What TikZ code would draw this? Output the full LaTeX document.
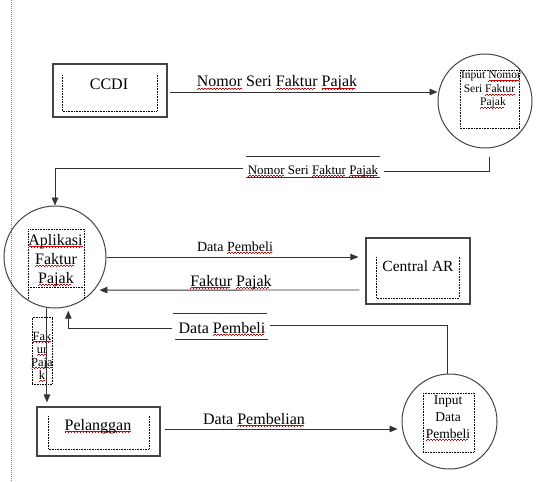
\documentclass[tikz,border=0pt]{standalone}
\usepackage{fontspec}
\setmainfont{Liberation Serif}
\usetikzlibrary{arrows.meta}
\newsavebox\sqbox
\newcommand\sqpat{\hbox{\rule[-2.6pt]{0.75pt}{0.55pt}\rule[-2.0pt]{0.75pt}{0.55pt}\rule[-1.4pt]{0.75pt}{0.55pt}\rule[-2.0pt]{0.75pt}{0.55pt}}}
\newcommand\sqw[1]{\sbox\sqbox{#1}\leavevmode\rlap{\raisebox{0pt}[0pt][0pt]{\color{red!85!black}\leaders\sqpat\hskip\wd\sqbox}}\usebox\sqbox}
\definecolor{lncol}{HTML}{333333}
\definecolor{boxcol}{HTML}{444444}
\tikzset{
  ln/.style={draw=lncol, line width=0.9pt},
  arr/.style={ln, -{Triangle[length=8pt,width=6.5pt]}},
  ebox/.style={draw=boxcol, line width=1.2pt, rectangle, inner sep=0pt},
  proc/.style={draw=boxcol, line width=1pt, circle, inner sep=0pt},
  dotb/.style={draw=black, line width=0.6pt, dash pattern=on 0.8pt off 0.8pt},
  big/.style={font=\fontsize{16}{19}\selectfont, inner sep=1pt, anchor=base},
  mid/.style={font=\fontsize{14}{17}\selectfont, inner sep=1pt, anchor=base},
  sml/.style={font=\fontsize{13}{16}\selectfont, inner sep=1pt, anchor=base},
}
\begin{document}
\begin{tikzpicture}[x=1pt,y=-1pt]
\useasboundingbox (0,0) rectangle (537,481);
\fill[white] (0,0) rectangle (537,481);
% left dotted margin line
\draw[draw=gray, line width=1pt, dash pattern=on 1pt off 1pt] (11,0) -- (11,481);

% ---------- CCDI ----------
\node[ebox, minimum width=114pt, minimum height=53pt] (ccdi) at (110,90.5) {};
\draw[dotb] (62,75) -- (62,111) -- (157,111) -- (157,75);
\node[big] (ccdit) at (109,90) {CCDI};

% ---------- Input Nomor Seri Faktur Pajak ----------
\node[proc, minimum size=94pt] (c1) at (485,101) {};
\draw[dotb] (460,70) rectangle (519,128);
\begin{scope}
\clip (458,60) rectangle (520,130);
\node[font=\fontsize{11.5}{14}\selectfont, inner sep=0pt, anchor=base] (c1a) at (491,79) {Input \sqw{Nomor}};
\end{scope}
\node[font=\fontsize{11.5}{14}\selectfont, inner sep=0pt, anchor=base] (c1b) at (489.5,93) {Seri \sqw{Faktur}};
\node[font=\fontsize{11.5}{14}\selectfont, inner sep=0pt, anchor=base] (c1c) at (493,106) {\sqw{Pajak}};

% ---------- Aplikasi Faktur Pajak ----------
\node[proc, minimum size=102pt] (app) at (55,257) {};
\draw[dotb] (28,299) -- (28,229) -- (84,229) -- (84,299);
\draw[dotb] (28,287) -- (84,287);
\node[big] (appa) at (55.5,245) {\sqw{Aplikasi}};
\node[big] (appb) at (56,264) {\sqw{Faktur}};
\node[big] (appc) at (56,283) {\sqw{Pajak}};

% ---------- Central AR ----------
\node[ebox, minimum width=104pt, minimum height=66pt] (car) at (418,271) {};
\draw[dotb] (376,257) -- (376,298) -- (459,298) -- (459,257);
\node[font=\fontsize{15.5}{18}\selectfont, inner sep=1pt, anchor=base] (cart) at (418,271) {Central AR};

% ---------- Pelanggan ----------
\node[ebox, minimum width=123pt, minimum height=49pt] (pel) at (98.5,431.5) {};
\draw[dotb] (48,416) -- (48,449) -- (149,449) -- (149,416);
\node[big] (pelt) at (98,430) {\sqw{Pelanggan}};

% ---------- Input Data Pembeli ----------
\node[proc, minimum size=95pt] (c3) at (449.5,421.5) {};
\draw[dotb] (423,393) rectangle (474,452);
\node[font=\fontsize{13.5}{17}\selectfont, inner sep=0pt, anchor=base] (c3a) at (448,404) {Input};
\node[font=\fontsize{13.5}{17}\selectfont, inner sep=0pt, anchor=base] (c3b) at (448,421) {Data};
\node[font=\fontsize{13.5}{17}\selectfont, inner sep=0pt, anchor=base] (c3c) at (448,438) {\sqw{Pembeli}};

% ---------- small text box Fak ur Paja k ----------
\node[dotb, minimum width=20pt, minimum height=67pt, inner sep=0pt] (fk) at (42,351) {};
\begin{scope}
\clip (fk.north west) rectangle (fk.south east);
\node[font=\fontsize{12.5}{13}\selectfont, inner sep=0pt, anchor=base] (fka) at (42,340) {\sqw{Fak}};
\node[font=\fontsize{12.5}{13}\selectfont, inner sep=0pt, anchor=base] (fkb) at (42,353) {\sqw{ur}};
\node[font=\fontsize{12.5}{13}\selectfont, inner sep=0pt, anchor=base] (fkc) at (42,366) {\sqw{Paja}};
\node[font=\fontsize{12.5}{13}\selectfont, inner sep=0pt, anchor=base] (fkd) at (42,379) {\sqw{k}};
\end{scope}

% ---------- flow labels ----------
\node[big] (l1) at (277,87) {\sqw{Nomor} Seri \sqw{Faktur} \sqw{Pajak}};
\node[sml] (l2) at (313,174) {\sqw{Nomor} Seri \sqw{Faktur} \sqw{Pajak}};
\node[mid] (l3) at (235,251) {Data \sqw{Pembeli}};
\node[big] (l4) at (231,286) {\sqw{Faktur} \sqw{Pajak}};
\node[big] (l5) at (222,333) {Data \sqw{Pembeli}};
\node[big] (l7) at (254,424) {Data \sqw{Pembelian}};

% over/under lines of the store-like labels
\draw[ln] (246,156) -- (380,156);
\draw[ln] (246,177) -- (380,177);
\draw[ln] (173,313) -- (267,313);
\draw[ln] (175,339) -- (268,339);

% ---------- connectors ----------
\draw[arr, shorten <=2pt] ([yshift=-1.5pt]ccdi.east) -- ([yshift=-1.5pt]ccdi.east -| c1.west);

\draw[ln] ([xshift=4pt,yshift=-8pt]c1.south) |- ([xshift=5pt,yshift=3pt]l2.base east);
\draw[arr] ([xshift=-4pt,yshift=6pt]l2.base west) -| (app.north);

\draw[arr, shorten >=7pt] (app.east) -- (app.east -| car.west);
\draw[arr, shorten <=6pt, shorten >=5pt] ([yshift=-19pt]car.west) -- (app.-40);

\draw[ln] ([xshift=-2.5pt]c3.north) |- ([xshift=3pt,yshift=8pt]l5.base east);
\draw[arr, shorten >=4pt] ([xshift=-5pt,yshift=5pt]l5.base west) -| (app.-75);

\draw[arr, shorten >=4pt] (app.-99) -- (app.-99 |- pel.north);

\draw[arr, shorten <=4.5pt, shorten >=4pt] ([yshift=2.5pt]pel.east) -- ([yshift=2.5pt]pel.east -| c3.west);
\end{tikzpicture}
\end{document}
